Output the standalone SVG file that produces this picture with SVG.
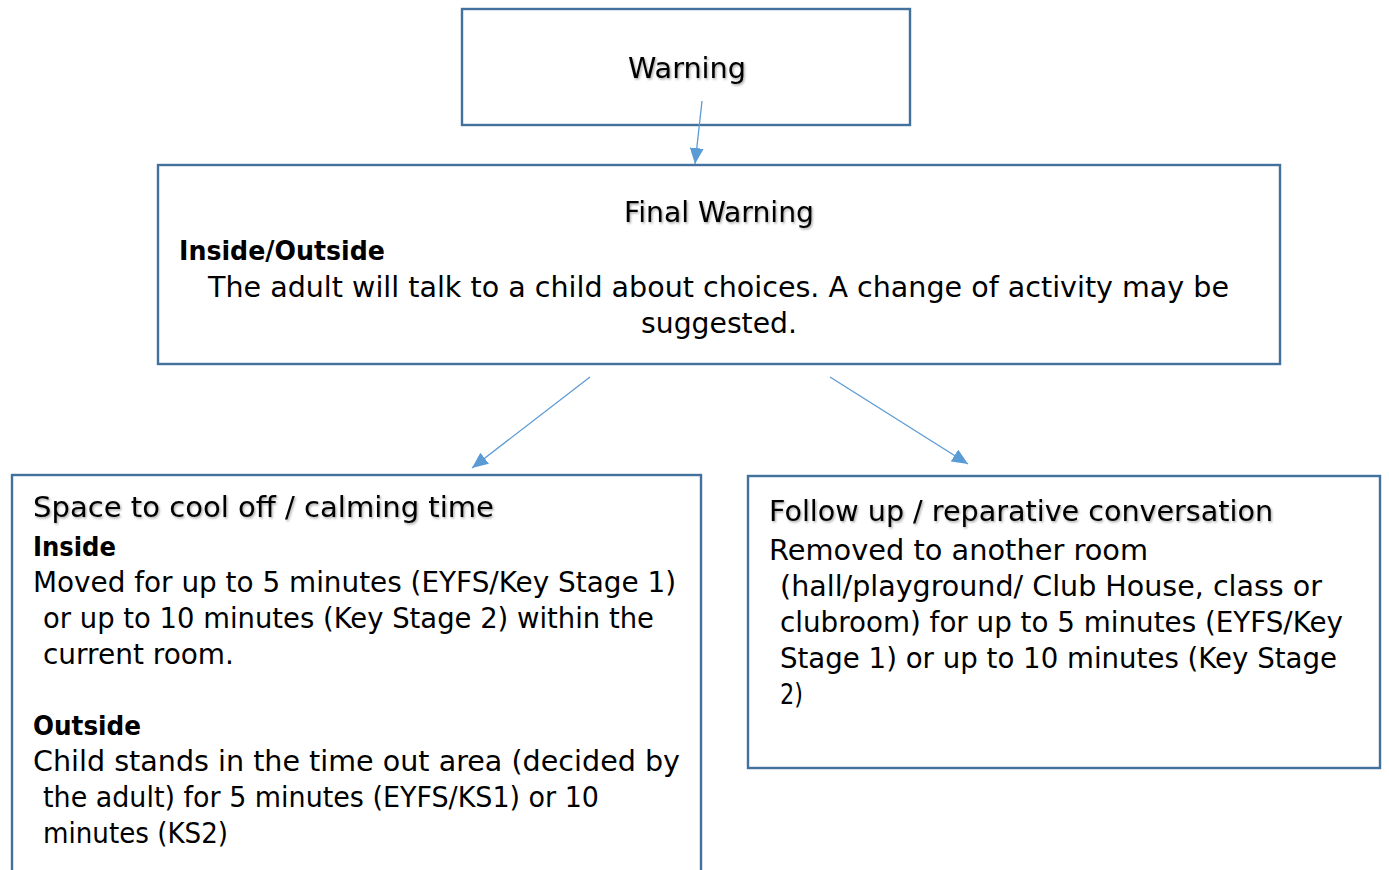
<svg xmlns="http://www.w3.org/2000/svg" width="1389" height="870" viewBox="0 0 1389 870">
<style>
.box{fill:#fff;stroke:#41719C;stroke-width:2.4}
.t{font-family:"DejaVu Sans","Liberation Sans",sans-serif;font-size:28px;fill:#000}
.b{font-weight:bold;font-size:26px}
.sh{filter:url(#shadow)}
.c{stroke:#5B9BD5;stroke-width:1.3;fill:none;marker-end:url(#ah)}
</style>
<defs>
<filter id="shadow" x="-5%" y="-20%" width="110%" height="150%">
<feDropShadow dx="1.2" dy="1.5" stdDeviation="0.8" flood-color="#000" flood-opacity="0.35"/>
</filter>
<marker id="ah" markerUnits="userSpaceOnUse" markerWidth="16" markerHeight="14" refX="16" refY="7" orient="auto">
<path d="M0,0 L16,7 L0,14 z" fill="#5B9BD5"/>
</marker>
</defs>
<rect width="1389" height="870" fill="#fff"/>
<g id="warning">
<rect class="box" x="462" y="9" width="448" height="116"/>
<text class="t sh" x="628" y="78" textLength="118" lengthAdjust="spacingAndGlyphs">Warning</text>
</g>
<g id="final-warning">
<rect class="box" x="158" y="165" width="1122" height="199"/>
<text class="t sh" x="624" y="222" textLength="190" lengthAdjust="spacingAndGlyphs">Final Warning</text>
<text class="t b" x="179" y="260" textLength="206" lengthAdjust="spacingAndGlyphs">Inside/Outside</text>
<text class="t" x="208" y="297" textLength="1021" lengthAdjust="spacingAndGlyphs">The adult will talk to a child about choices. A change of activity may be</text>
<text class="t" x="641" y="333" textLength="156" lengthAdjust="spacingAndGlyphs">suggested.</text>
</g>
<g id="cool-off">
<rect class="box" x="12" y="475" width="689" height="420"/>
<text class="t sh" x="33" y="517" textLength="461" lengthAdjust="spacingAndGlyphs">Space to cool off / calming time</text>
<text class="t b" x="33" y="556" textLength="83" lengthAdjust="spacingAndGlyphs">Inside</text>
<text class="t" x="33" y="592" textLength="643" lengthAdjust="spacingAndGlyphs">Moved for up to 5 minutes (EYFS/Key Stage 1)</text>
<text class="t" x="43" y="628" textLength="611" lengthAdjust="spacingAndGlyphs">or up to 10 minutes (Key Stage 2) within the</text>
<text class="t" x="43" y="664" textLength="191" lengthAdjust="spacingAndGlyphs">current room.</text>
<text class="t b" x="33" y="735" textLength="108" lengthAdjust="spacingAndGlyphs">Outside</text>
<text class="t" x="33" y="771" textLength="647" lengthAdjust="spacingAndGlyphs">Child stands in the time out area (decided by</text>
<text class="t" x="43" y="807" textLength="556" lengthAdjust="spacingAndGlyphs">the adult) for 5 minutes (EYFS/KS1) or 10</text>
<text class="t" x="43" y="843" textLength="185" lengthAdjust="spacingAndGlyphs">minutes (KS2)</text>
</g>
<g id="follow-up">
<rect class="box" x="748" y="476" width="632" height="292"/>
<text class="t sh" x="769" y="521" textLength="504" lengthAdjust="spacingAndGlyphs">Follow up / reparative conversation</text>
<text class="t" x="769" y="560" textLength="379" lengthAdjust="spacingAndGlyphs">Removed to another room</text>
<text class="t" x="780" y="596" textLength="542" lengthAdjust="spacingAndGlyphs">(hall/playground/ Club House, class or</text>
<text class="t" x="780" y="632" textLength="563" lengthAdjust="spacingAndGlyphs">clubroom) for up to 5 minutes (EYFS/Key</text>
<text class="t" x="780" y="668" textLength="557" lengthAdjust="spacingAndGlyphs">Stage 1) or up to 10 minutes (Key Stage</text>
<text class="t" x="780" y="704" textLength="23" lengthAdjust="spacingAndGlyphs">2)</text>
</g>
<g id="connectors">
<line class="c" x1="702" y1="101" x2="695" y2="164"/>
<line class="c" x1="590" y1="377" x2="472" y2="468"/>
<line class="c" x1="830" y1="377" x2="968" y2="464"/>
</g>
</svg>
